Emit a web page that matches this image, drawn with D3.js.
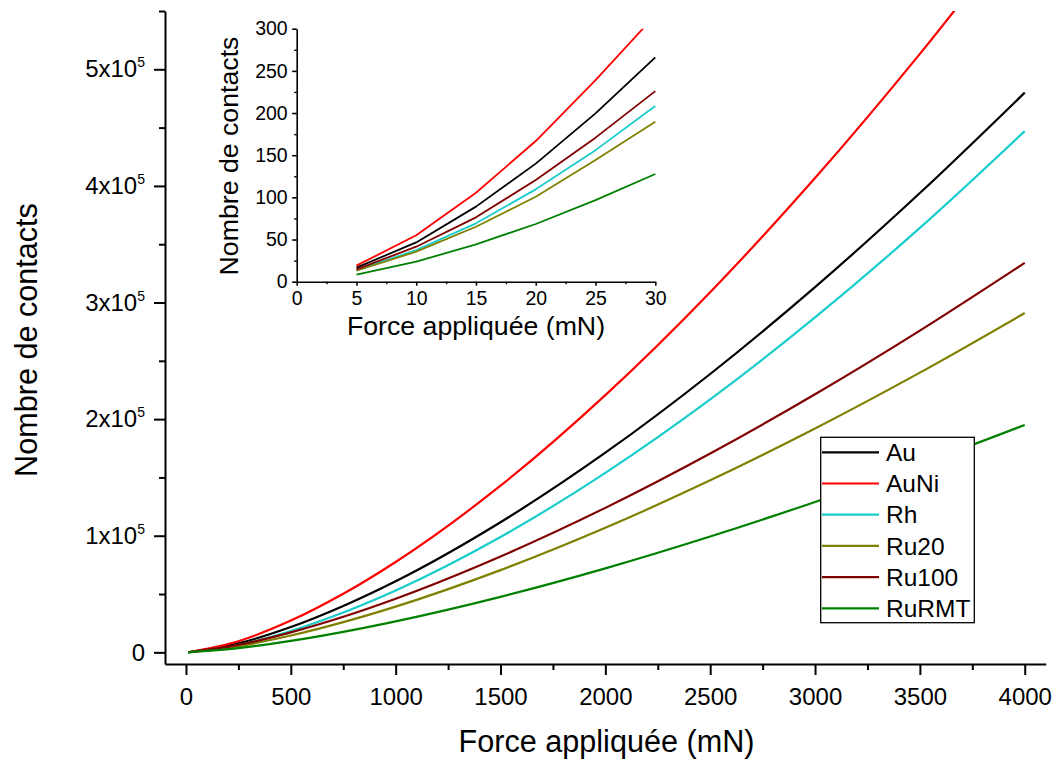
<!DOCTYPE html>
<html><head><meta charset="utf-8">
<script src="https://cdn.jsdelivr.net/npm/d3@7/dist/d3.min.js"></script>
<style>
body{margin:0;background:#fff}
svg text{font-family:Arial,"Liberation Sans",sans-serif;fill:#000}
</style>
</head><body>
<svg id="chart" width="1056" height="760"></svg>
<script>
// ---------- data ----------
const seriesNames = ["Au","AuNi","Rh","Ru20","Ru100","RuRMT"];
const seriesColors = ["#000000","#ff0000","#19cccc","#808000","#800000","#008000"];

// main chart (force in mN)
const force = [10,250,500,750,1000,1500,2000,2500,3000,3500,4000];
const mainAu    = [64, 7740, 21700, 39800, 61000, 111600, 171200, 238700, 313200, 393900, 480000];
const mainAuNi  = [74, 9570, 27200, 50200, 77500, 142900, 220600, 308900, 406700, 513200, 627800];
const mainRh    = [44, 6290, 18300, 34100, 53000, 98900, 153900, 216900, 287200, 364000, 447000];
const mainRu20  = [50, 5280, 14400, 25900, 39200, 70500, 106800, 147500, 192000, 239900, 291000];
const mainRu100 = [63, 6340, 17100, 30500, 46000, 82200, 123900, 170500, 221300, 275900, 334000];
const mainRuRMT = [36, 3630, 9820, 17600, 26600, 47600, 72000, 99300, 129000, 161000, 195000];

// inset chart
const insetForce = [5,10,15,20,25,30];
const insetAu    = [16.6, 46.6, 89, 140, 199.6, 266];
const insetAuNi  = [19, 55, 105.5, 166.8, 239, 316];
const insetRh    = [13.8, 37.5, 69.2, 109.5, 156, 208.3];
const insetRu20  = [13, 35.6, 65.2, 100.8, 144.3, 189.7];
const insetRu100 = [14.6, 41.5, 76.3, 120.6, 170.8, 226];
const insetRuRMT = [8.3, 23.7, 44.3, 68.4, 96.8, 127.7];

// ticks
const mainXTicks = [0,500,1000,1500,2000,2500,3000,3500,4000];
const mainXMinor = [250,750,1250,1750,2250,2750,3250,3750];
const mainYTicks = [0,100000,200000,300000,400000,500000];
const mainYMinor = [50000,150000,250000,350000,450000,550000];
const insetXTicks = [0,5,10,15,20,25,30];
const insetXMinor = [2.5,7.5,12.5,17.5,22.5,27.5];
const insetYTicks = [0,50,100,150,200,250,300];
const insetYMinor = [25,75,125,175,225,275];

const xTitle = "Force appliquée (mN)";
const yTitle = "Nombre de contacts";

const mainSeries = [mainAu, mainAuNi, mainRh, mainRu20, mainRu100, mainRuRMT];
const insetSeries = [insetAu, insetAuNi, insetRh, insetRu20, insetRu100, insetRuRMT];

// ---------- drawing ----------
const svg = d3.select("#chart");

const x = d3.scaleLinear().domain([-100, 4100]).range([165, 1045.7]);
const y = d3.scaleLinear().domain([-10000, 550000]).range([664, 11]);

const defs = svg.append("defs");
defs.append("clipPath").attr("id","mainClip").append("rect")
  .attr("x", x.range()[0]).attr("y", y.range()[1])
  .attr("width", x.range()[1]-x.range()[0]).attr("height", y.range()[0]-y.range()[1]);

function styleAxis(g, w){
  g.select(".domain").attr("stroke","#000").attr("stroke-width",w);
  g.selectAll(".tick line").attr("stroke","#000").attr("stroke-width",w);
}

// main x axis
const gx = svg.append("g").attr("transform",`translate(0,${y.range()[0]})`)
  .call(d3.axisBottom(x).tickValues(mainXTicks).tickSize(11).tickSizeOuter(0).tickPadding(13).tickFormat(d3.format("d")));
gx.selectAll(".tick text").attr("font-size",24).attr("font-family","Arial, 'Liberation Sans', sans-serif");
styleAxis(gx, 2);
const gxm = svg.append("g").attr("transform",`translate(0,${y.range()[0]})`)
  .call(d3.axisBottom(x).tickValues(mainXMinor).tickSize(6).tickFormat(""));
gxm.select(".domain").remove(); styleAxis(gxm, 2);

// main y axis
const gy = svg.append("g").attr("transform",`translate(${x.range()[0]},0)`)
  .call(d3.axisLeft(y).tickValues(mainYTicks).tickSize(11).tickSizeOuter(0).tickPadding(9));
gy.selectAll(".tick text").attr("font-size",24).attr("font-family","Arial, 'Liberation Sans', sans-serif")
  .each(function(d){
    const t = d3.select(this); t.text(null);
    if (d === 0) { t.text("0"); return; }
    const exp = Math.floor(Math.log10(d));
    t.append("tspan").text((d/Math.pow(10,exp)) + "x10");
    t.append("tspan").attr("font-size",14).attr("dy",-10).text(exp);
  });
styleAxis(gy, 2);
const gym = svg.append("g").attr("transform",`translate(${x.range()[0]},0)`)
  .call(d3.axisLeft(y).tickValues(mainYMinor).tickSize(6).tickFormat(""));
gym.select(".domain").remove(); styleAxis(gym, 2);

// main titles
svg.append("text").attr("x",606.5).attr("y",752).attr("text-anchor","middle")
  .attr("font-size",30.6).text(xTitle);
svg.append("text").attr("transform","translate(36.5,340) rotate(-90)").attr("text-anchor","middle")
  .attr("font-size",30.6).text(yTitle);

// main lines
const mainLine = d3.line().x((d,i)=>x(force[i])).y(d=>y(d)).curve(d3.curveMonotoneX);
const gLines = svg.append("g").attr("clip-path","url(#mainClip)");
mainSeries.forEach((s,k)=>{
  gLines.append("path").datum(s).attr("d",mainLine).attr("fill","none")
    .attr("stroke",seriesColors[k]).attr("stroke-width",2.2).attr("stroke-linejoin","round");
});

// ---------- inset ----------
const xi = d3.scaleLinear().domain([0,30]).range([296.7, 655.3]);
const yi = d3.scaleLinear().domain([0,300]).range([281.7, 28.7]);
defs.append("clipPath").attr("id","insetClip").append("rect")
  .attr("x", xi.range()[0]).attr("y", yi.range()[1])
  .attr("width", xi.range()[1]-xi.range()[0]+2).attr("height", yi.range()[0]-yi.range()[1]);

const insetLine = d3.line().x((d,i)=>xi(insetForce[i])).y(d=>yi(d));
const gInset = svg.append("g").attr("clip-path","url(#insetClip)");
insetSeries.forEach((s,k)=>{
  gInset.append("path").datum(s).attr("d",insetLine).attr("fill","none")
    .attr("stroke",seriesColors[k]).attr("stroke-width",1.8).attr("stroke-linejoin","round");
});

const gix = svg.append("g").attr("transform",`translate(0,${yi.range()[0]})`)
  .call(d3.axisBottom(xi).tickValues(insetXTicks).tickSize(4).tickSizeOuter(0).tickPadding(5));
gix.selectAll(".tick text").attr("font-size",19.5).attr("font-family","Arial, 'Liberation Sans', sans-serif");
styleAxis(gix, 1.6);
const gixm = svg.append("g").attr("transform",`translate(0,${yi.range()[0]})`)
  .call(d3.axisBottom(xi).tickValues(insetXMinor).tickSize(2.5).tickFormat(""));
gixm.select(".domain").remove(); styleAxis(gixm, 1.4);

const giy = svg.append("g").attr("transform",`translate(${xi.range()[0]},0)`)
  .call(d3.axisLeft(yi).tickValues(insetYTicks).tickSize(4.5).tickSizeOuter(0).tickPadding(4.5));
giy.selectAll(".tick text").attr("font-size",19.5).attr("font-family","Arial, 'Liberation Sans', sans-serif");
styleAxis(giy, 1.6);
const giym = svg.append("g").attr("transform",`translate(${xi.range()[0]},0)`)
  .call(d3.axisLeft(yi).tickValues(insetYMinor).tickSize(2.5).tickFormat(""));
giym.select(".domain").remove(); styleAxis(giym, 1.4);

svg.append("text").attr("x",476).attr("y",335).attr("text-anchor","middle")
  .attr("font-size",26.7).text(xTitle);
svg.append("text").attr("transform","translate(238,156) rotate(-90)").attr("text-anchor","middle")
  .attr("font-size",26.7).text(yTitle);

// ---------- legend ----------
const leg = svg.append("g");
leg.append("rect").attr("x",820.7).attr("y",437.3).attr("width",153.6).attr("height",185.4)
  .attr("fill","#fff").attr("stroke","#000").attr("stroke-width",1.3);
seriesNames.forEach((n,k)=>{
  const ry = 452.3 + k*31.2;
  leg.append("line").attr("x1",822).attr("x2",879).attr("y1",ry).attr("y2",ry)
    .attr("stroke",seriesColors[k]).attr("stroke-width",2.2);
  leg.append("text").attr("x",886).attr("y",ry+8.6).attr("font-size",24.5).text(n);
});
</script>
</body></html>
